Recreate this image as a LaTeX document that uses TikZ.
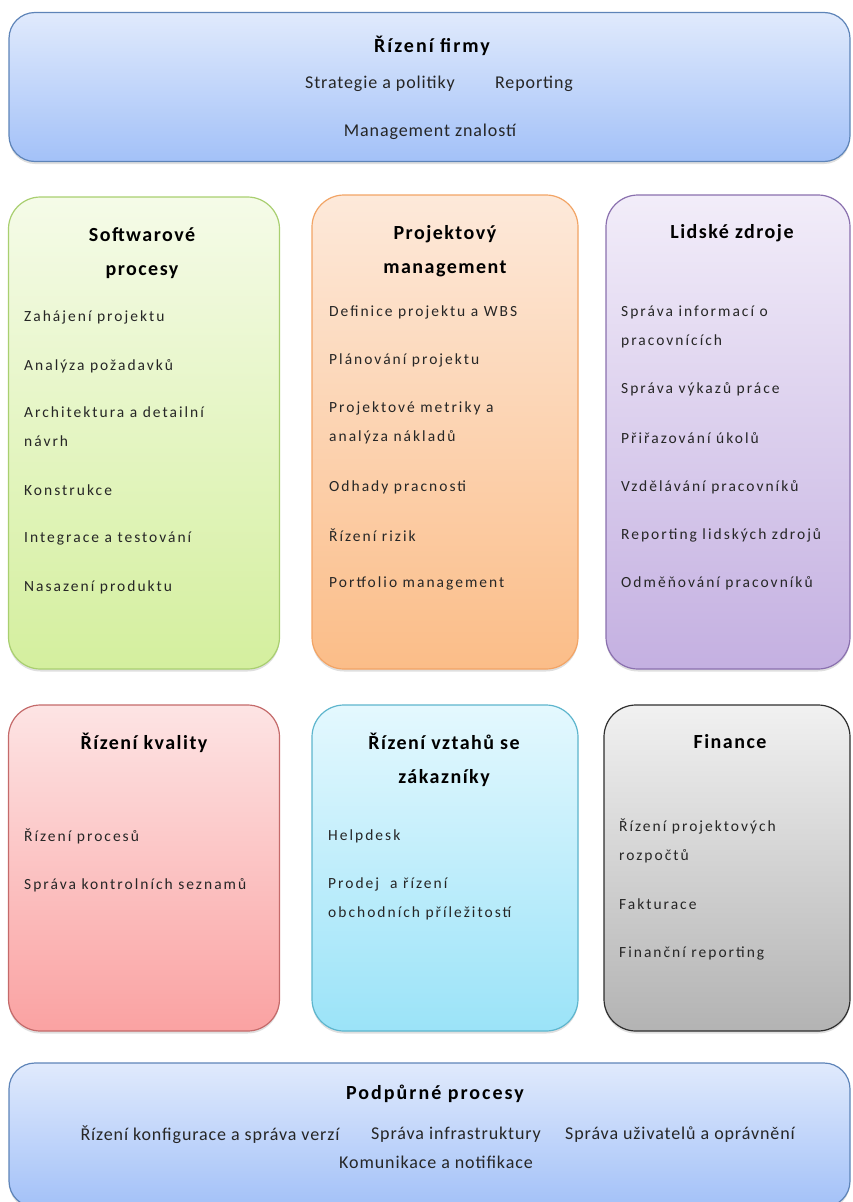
\documentclass[tikz,border=0pt]{standalone}
\usepackage{fontspec}
\setmainfont{Carlito}
\newfontfamily\itemfont[LetterSpace=13]{Carlito}
\newfontfamily\headfont[LetterSpace=7.5]{Carlito}
\newfontfamily\bandfont[LetterSpace=10]{Carlito}
\newfontfamily\flatfont[LetterSpace=5]{Carlito}
\usetikzlibrary{shadows}

\definecolor{blueTop}{HTML}{E0EAFC}
\definecolor{blueBot}{HTML}{A3C1F8}
\definecolor{blueLine}{HTML}{5E84B8}
\definecolor{greenTop}{HTML}{F5FBE8}
\definecolor{greenBot}{HTML}{D4EF9E}
\definecolor{greenLine}{HTML}{A9CF70}
\definecolor{orangeTop}{HTML}{FDE9DA}
\definecolor{orangeBot}{HTML}{FBBD88}
\definecolor{orangeLine}{HTML}{F2A465}
\definecolor{purpleTop}{HTML}{F2EDF9}
\definecolor{purpleBot}{HTML}{C4B0E1}
\definecolor{purpleLine}{HTML}{8A70AE}
\definecolor{redTop}{HTML}{FDE4E4}
\definecolor{redBot}{HTML}{FAA2A2}
\definecolor{redLine}{HTML}{C46A6A}
\definecolor{cyanTop}{HTML}{E4F8FE}
\definecolor{cyanBot}{HTML}{9BE3F8}
\definecolor{cyanLine}{HTML}{5DB5CD}
\definecolor{grayTop}{HTML}{F1F1F1}
\definecolor{grayBot}{HTML}{B3B3B3}
\definecolor{grayLine}{HTML}{2E2E2E}

\begin{document}
\begin{tikzpicture}[x=1pt, y=-1pt]

  \tikzset{
    panel/.style={
      rectangle,
      rounded corners=32pt,
      line width=1.2pt,
      inner sep=0pt,
      drop shadow={opacity=0.25, shadow xshift=0pt, shadow yshift=-2.5pt}
    },
    wide/.style={panel, rounded corners=26pt, minimum width=841pt,
      top color=blueTop, bottom color=blueBot, draw=blueLine},
    headline/.style={font=\headfont\bfseries\fontsize{20}{34}\selectfont, align=center, text=black},
    subline/.style={font=\bandfont\bfseries\fontsize{20}{22}\selectfont, text=black},
    item/.style={anchor=west, align=left, inner sep=0pt,
      font=\itemfont\fontsize{15.5}{29}\selectfont, text=black!85},
    flatitem/.style={font=\flatfont\fontsize{18}{27}\selectfont, text=black!85, inner sep=0pt}
  }

  \useasboundingbox (0,0) rectangle (852,1202);

  % boxes
  \node[wide, minimum height=149pt] (firm) at (429.5,87) {};
  \node[panel, minimum width=271pt, minimum height=472pt,
    top color=greenTop, bottom color=greenBot, draw=greenLine] (sw) at (144,433) {};
  \node[panel, minimum width=266pt, minimum height=474pt,
    top color=orangeTop, bottom color=orangeBot, draw=orangeLine] (pm) at (445,432) {};
  \node[panel, minimum width=244pt, minimum height=474pt,
    top color=purpleTop, bottom color=purpleBot, draw=purpleLine] (hr) at (728,432) {};
  \node[panel, minimum width=271pt, minimum height=326pt,
    top color=redTop, bottom color=redBot, draw=redLine] (qa) at (144,868) {};
  \node[panel, minimum width=266pt, minimum height=326pt,
    top color=cyanTop, bottom color=cyanBot, draw=cyanLine] (crm) at (445,868) {};
  \node[panel, minimum width=246pt, minimum height=326pt,
    top color=grayTop, bottom color=grayBot, draw=grayLine] (fin) at (727,868) {};
  \node[wide, minimum height=144pt] (sup) at (429.5,1135) {};

  % Rizeni firmy
  \node[subline] (firmT) at (432,46) {Řízení firmy};
  \node[flatitem] (firmA) at (380,84) {Strategie a politiky};
  \node[flatitem] (firmB) at (534,84) {Reporting};
  \node[flatitem] (firmC) at (430,132) {Management znalostí};

  % Softwarove procesy
  \node[headline] (swT) at (142,253) {Softwarové\\procesy};
  \node[item] (sw1) at (24,317) {Zahájení projektu};
  \node[item] (sw2) at (24,366) {Analýza požadavků};
  \node[item] (sw3) at (24,427) {Architektura a detailní\\návrh};
  \node[item] (sw4) at (24,490) {Konstrukce};
  \node[item] (sw5) at (24,539) {Integrace a testování};
  \node[item] (sw6) at (24,587) {Nasazení produktu};

  % Projektovy management
  \node[headline] (pmT) at (445,251) {Projektový\\management};
  \node[item] (pm1) at (329,312) {Definice projektu a WBS};
  \node[item] (pm2) at (329,360) {Plánování projektu};
  \node[item] (pm3) at (329,423) {Projektové metriky a\\analýza nákladů};
  \node[item] (pm4) at (329,487) {Odhady pracnosti};
  \node[item] (pm5) at (329,535) {Řízení rizik};
  \node[item] (pm6) at (329,583) {Portfolio management};

  % Lidske zdroje
  \node[headline] (hrT) at (732,233) {Lidské zdroje};
  \node[item] (hr1) at (621,327) {Správa informací o\\pracovnících};
  \node[item] (hr2) at (621,389) {Správa výkazů práce};
  \node[item] (hr3) at (621,438) {Přiřazování úkolů};
  \node[item] (hr4) at (621,487) {Vzdělávání pracovníků};
  \node[item] (hr5) at (621,535) {Reporting lidských zdrojů};
  \node[item] (hr6) at (621,583) {Odměňování pracovníků};

  % Rizeni kvality
  \node[headline] (qaT) at (144,743) {Řízení kvality};
  \node[item] (qa1) at (24,836) {Řízení procesů};
  \node[item] (qa2) at (24,885) {Správa kontrolních seznamů};

  % Rizeni vztahu se zakazniky
  \node[headline] (crmT) at (444,760) {Řízení vztahů se\\zákazníky};
  \node[item] (crm1) at (328,836) {Helpdesk};
  \node[item] (crm2) at (328,899) {Prodej~ a řízení\\obchodních příležitostí};

  % Finance
  \node[headline] (finT) at (730,742) {Finance};
  \node[item] (fin1) at (619,841) {Řízení projektových\\rozpočtů};
  \node[item] (fin2) at (619,904) {Fakturace};
  \node[item] (fin3) at (619,953) {Finanční reporting};

  % Podpurne procesy
  \node[subline] (supT) at (435,1094) {Podpůrné procesy};
  \node[flatitem] (sup1) at (210,1135) {Řízení konfigurace a správa verzí};
  \node[flatitem] (sup2) at (456,1135) {Správa infrastruktury};
  \node[flatitem] (sup3) at (680,1135) {Správa uživatelů a oprávnění};
  \node[flatitem] (sup4) at (436,1162) {Komunikace a notifikace};

\end{tikzpicture}
\end{document}
